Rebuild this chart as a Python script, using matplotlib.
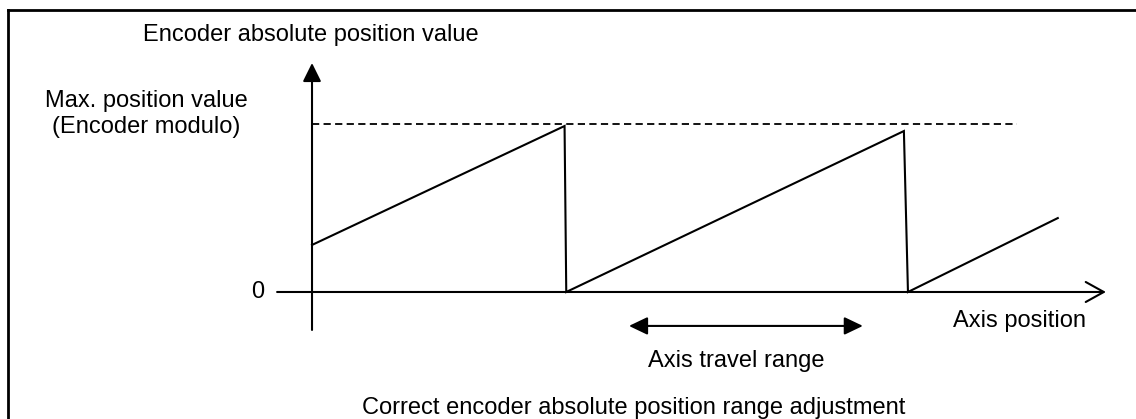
import matplotlib
matplotlib.use("Agg")
import matplotlib.pyplot as plt

plt.rcParams['font.family'] = ['Liberation Sans', 'DejaVu Sans']

# sawtooth of the encoder value (1 = encoder modulo), x in modulo periods
axis_pos = [0.0, 0.745, 0.75, 1.746, 1.758, 2.20]
enc_value = [0.28, 0.988, 0.0, 0.958, 0.0, 0.44]

max_value = 1.0
travel_range = [0.935, 1.625]

fig = plt.figure(figsize=(11.36, 4.19), dpi=100)
ax = fig.add_axes([0, 0, 1, 1])
ax.set_xlim(-0.9204, 2.4307)
ax.set_ylim(-0.756, 1.738)
ax.axis('off')

lw = 1.5
fs = 17

# frame around the drawing (right and bottom edges fall outside)
ax.plot([-0.897, -0.897], [-0.76, 1.679], color='black', lw=2.0)
ax.plot([-0.897, 2.44], [1.679, 1.679], color='black', lw=2.0)

# axes with arrows
ax.annotate('', xy=(0, 1.363), xytext=(0, -0.226),
            arrowprops=dict(arrowstyle='-|>,head_length=1.13,head_width=0.56',
                            mutation_scale=10, color='black', lw=lw,
                            shrinkA=0, shrinkB=0))
ax.annotate('', xy=(2.342, 0), xytext=(-0.103, 0),
            arrowprops=dict(arrowstyle='->,head_length=1.3,head_width=0.72',
                            mutation_scale=10, color='black', lw=lw,
                            shrinkA=0, shrinkB=0))

# max value dashed line
ax.plot([0, 2.08], [max_value, max_value], color='black', lw=1.3, dashes=[4.0, 2.4])

# encoder value
ax.plot(axis_pos, enc_value, color='black', lw=lw, solid_joinstyle='miter')

# travel range arrow
ax.annotate('', xy=(travel_range[1], -0.202), xytext=(travel_range[0], -0.202),
            arrowprops=dict(arrowstyle='<|-|>,head_length=1.13,head_width=0.54',
                            mutation_scale=10, color='black', lw=lw,
                            shrinkA=0, shrinkB=0))

# labels
ax.text(-0.4985, 1.494, 'Encoder absolute position value', fontsize=fs,
        ha='left', va='baseline')
ax.text(-0.49, 1.101, 'Max. position value', fontsize=fs, ha='center', va='baseline')
ax.text(-0.49, 0.946, '(Encoder modulo)', fontsize=fs, ha='center', va='baseline')
ax.text(-0.159, -0.036, '0', fontsize=fs, ha='center', va='baseline')
ax.text(2.088, -0.208, 'Axis position', fontsize=fs, ha='center', va='baseline')
ax.text(1.251, -0.446, 'Axis travel range', fontsize=fs, ha='center', va='baseline')
ax.text(0.95, -0.726, 'Correct encoder absolute position range adjustment',
        fontsize=fs, ha='center', va='baseline')

fig.savefig('out.png', dpi=100)
